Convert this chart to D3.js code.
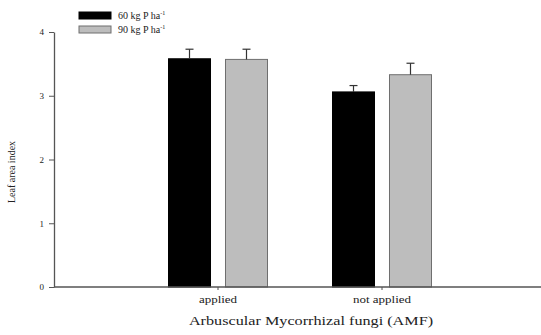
<!DOCTYPE html>
<html>
<head>
<meta charset="utf-8">
<script src="https://cdn.jsdelivr.net/npm/d3@7"></script>
<style>
  body { margin: 0; background: #fff; }
  text { font-family: "Liberation Serif", "Times New Roman", serif; fill: #222; }
</style>
</head>
<body>
<div id="chart"></div>
<script>
// data
var categories = ['applied', 'not applied'];
var series = ['60 kg P ha', '90 kg P ha'];
var means60 = [3.58, 3.06];
var means90 = [3.57, 3.33];
var err60 = [0.15, 0.10];
var err90 = [0.16, 0.18];
var yTicks = [0, 1, 2, 3, 4];

var width = 541,
    height = 335;

var rows = [];
categories.forEach(function(c, i) {
    rows.push({ cat: c, s: series[0], v: means60[i], e: err60[i] });
    rows.push({ cat: c, s: series[1], v: means90[i], e: err90[i] });
});

var colors = d3.scaleOrdinal().domain(series).range(['#000000', '#bdbdbd']);
var strokes = d3.scaleOrdinal().domain(series).range(['#000000', '#6f6f6f']);

var svg = d3.select('#chart').append('svg')
    .attr('width', width)
    .attr('height', height);

var x0 = d3.scaleBand().domain(categories).range([136, 464]);
var x1 = d3.scaleBand().domain(series).range([-49.5, 49.5]).paddingInner(0.263);
var y = d3.scaleLinear().domain([0, 4]).range([287, 32]);

// bars
svg.selectAll('rect.bar')
    .data(rows)
    .enter().append('rect')
    .attr('class', 'bar')
    .attr('x', function(d) { return x0(d.cat) + x0.bandwidth() / 2 + x1(d.s); })
    .attr('width', x1.bandwidth())
    .attr('y', function(d) { return y(d.v); })
    .attr('height', function(d) { return y(0) - y(d.v); })
    .attr('fill', function(d) { return colors(d.s); })
    .attr('stroke', function(d) { return strokes(d.s); })
    .attr('stroke-width', 1);

// error bars (upper only)
var eb = svg.selectAll('g.err')
    .data(rows)
    .enter().append('g')
    .attr('class', 'err')
    .attr('transform', function(d) {
        return 'translate(' + (x0(d.cat) + x0.bandwidth() / 2 + x1(d.s) + x1.bandwidth() / 2) + ',0)';
    })
    .attr('stroke', '#333')
    .attr('stroke-width', 1.2);

eb.append('line')
    .attr('y1', function(d) { return y(d.v); })
    .attr('y2', function(d) { return y(d.v + d.e); });
eb.append('line')
    .attr('x1', -4).attr('x2', 4)
    .attr('y1', function(d) { return y(d.v + d.e); })
    .attr('y2', function(d) { return y(d.v + d.e); });

// y axis
var yAxis = svg.append('g')
    .attr('transform', 'translate(54,0)')
    .call(d3.axisLeft(y).tickValues(yTicks).tickSize(5).tickSizeOuter(0).tickFormat(d3.format('d')));
yAxis.selectAll('text').style('font-size', '9px').attr('x', -10);
yAxis.select('.domain').attr('stroke', '#555').attr('stroke-width', 1.3);
yAxis.selectAll('.tick line').attr('stroke', '#555');

// x axis
var xAxis = svg.append('g')
    .attr('transform', 'translate(0,287)')
    .call(d3.axisBottom(x0).tickSize(3).tickSizeOuter(0));
xAxis.select('.domain').remove();
// the labels in the picture are stretched sideways
xAxis.selectAll('text')
    .style('font-size', '10px')
    .attr('y', 9)
    .attr('transform', 'scale(1.3,1)');
xAxis.selectAll('.tick line').attr('stroke', '#555');
svg.append('line')
    .attr('x1', 54).attr('x2', width)
    .attr('y1', 287).attr('y2', 287)
    .attr('stroke', '#555').attr('stroke-width', 1.3);

// axis titles
svg.append('text')
    .attr('transform', 'translate(311,325) scale(1.35,1)')
    .attr('text-anchor', 'middle')
    .style('font-size', '12px')
    .text('Arbuscular Mycorrhizal fungi (AMF)');

svg.append('text')
    .attr('transform', 'translate(15,172) rotate(-90)')
    .attr('text-anchor', 'middle')
    .style('font-size', '10px')
    .text('Leaf area index');

// legend
var legend = svg.selectAll('g.legend')
    .data(series)
    .enter().append('g')
    .attr('class', 'legend')
    .attr('transform', function(d, i) { return 'translate(79,' + (12 + i * 14) + ')'; });

legend.append('rect')
    .attr('width', 32)
    .attr('height', 7)
    .attr('fill', function(d) { return colors(d); })
    .attr('stroke', function(d) { return strokes(d); });

var lt = legend.append('text')
    .attr('x', 39)
    .attr('y', 7)
    .style('font-size', '10px');
lt.append('tspan').text(function(d) { return d; });
lt.append('tspan').attr('dy', -4).style('font-size', '6px').text('-1');
</script>
</body>
</html>
